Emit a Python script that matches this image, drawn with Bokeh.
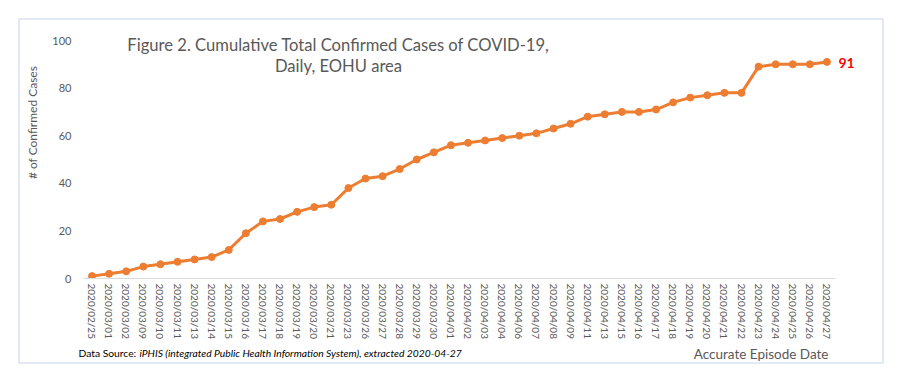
import math
from bokeh.plotting import figure
from bokeh.models import ColumnDataSource, Label, BoxAnnotation, FactorRange, Range1d
from bokeh.embed import file_html
from bokeh.resources import INLINE

dates = ["2020/02/25", "2020/03/01", "2020/03/02", "2020/03/09", "2020/03/10", "2020/03/11",
         "2020/03/13", "2020/03/14", "2020/03/15", "2020/03/16", "2020/03/17", "2020/03/18",
         "2020/03/19", "2020/03/20", "2020/03/21", "2020/03/23", "2020/03/26", "2020/03/27",
         "2020/03/28", "2020/03/29", "2020/03/30", "2020/04/01", "2020/04/02", "2020/04/03",
         "2020/04/04", "2020/04/06", "2020/04/07", "2020/04/08", "2020/04/09", "2020/04/11",
         "2020/04/13", "2020/04/15", "2020/04/16", "2020/04/17", "2020/04/18", "2020/04/19",
         "2020/04/20", "2020/04/21", "2020/04/22", "2020/04/23", "2020/04/24", "2020/04/25",
         "2020/04/26", "2020/04/27"]
cases = [1, 2, 3, 5, 6, 7, 8, 9, 12, 19, 24, 25, 28, 30, 31, 38, 42, 43, 46, 50, 53,
         56, 57, 58, 59, 60, 61, 63, 65, 68, 69, 70, 70, 71, 74, 76, 77, 78, 78, 89, 90,
         90, 90, 91]
y_ticks = [0, 20, 40, 60, 80, 100]
last_label = str(cases[-1])

FONT = "Lato"
GRAY = "#595959"
ORANGE = "#ED7D31"
W, H = 897, 378

src = ColumnDataSource(dict(x=dates, y=cases))

# ---- main chart ----
p = figure(width=W, height=H, x_range=FactorRange(*dates, range_padding=0),
           y_range=Range1d(0, 100), output_backend="svg", toolbar_location=None,
           min_border_left=83, min_border_right=62, min_border_top=40, min_border_bottom=100)
p.outline_line_color = None
p.xgrid.grid_line_color = None
p.ygrid.grid_line_color = None

p.line("x", "y", source=src, line_color=ORANGE, line_width=3)
p.scatter("x", "y", source=src, size=7, fill_color=ORANGE, line_color=ORANGE)

p.yaxis.ticker = y_ticks
p.yaxis.axis_line_color = None
p.yaxis.major_tick_line_color = None
p.yaxis.minor_tick_line_color = None
p.yaxis.major_tick_out = 0
p.yaxis.major_label_standoff = 12
p.yaxis.major_label_text_font = FONT
p.yaxis.major_label_text_font_size = "11px"
p.yaxis.major_label_text_color = GRAY

p.xaxis.axis_line_color = "#D9D9D9"
p.xaxis.axis_line_width = 1
p.xaxis.major_tick_line_color = None
p.xaxis.minor_tick_line_color = None
p.xaxis.major_tick_out = 0
p.xaxis.major_label_standoff = 5
p.xaxis.major_label_orientation = -math.pi / 2
p.xaxis.major_label_text_font = FONT
p.xaxis.major_label_text_font_size = "10px"
p.xaxis.major_label_text_color = GRAY

# ---- overlay with frame, titles and notes (page-pixel coordinates) ----
bg = figure(width=W, height=H, x_range=Range1d(0, W), y_range=Range1d(H, 0),
            output_backend="svg", toolbar_location=None,
            x_axis_location=None, y_axis_location=None,
            min_border=0, min_border_left=0, min_border_right=0,
            min_border_top=0, min_border_bottom=0)
bg.grid.visible = False
bg.outline_line_color = None
bg.background_fill_color = None
bg.border_fill_color = None
bg.styles = {"position": "absolute", "left": "0px", "top": "0px", "pointer-events": "none"}

bg.add_layout(BoxAnnotation(left=18.5, right=882.5, top=18.5, bottom=362.5,
                            fill_color=None, fill_alpha=0,
                            line_color="#4472C4", line_width=1, editable=False))

def lab(text, x, y, **kw):
    opts = dict(text_font=FONT, text_color=GRAY, text_baseline="middle")
    opts.update(kw)
    bg.add_layout(Label(x=x, y=y, text=text, **opts))

lab("Figure 2. Cumulative Total Confirmed Cases of COVID-19,", 338, 44,
    text_align="center", text_font_size="16.6px")
lab("Daily, EOHU area", 338, 65, text_align="center", text_font_size="16.6px")
lab(last_label, 838, 62, text_align="left", text_font_size="14px",
    text_font_style="bold", text_color="#FF0000")
lab("# of Confirmed Cases", 32, 122, text_align="center", angle=math.pi / 2,
    text_font_size="12px")
lab("Data Source: ", 78, 352, text_align="left", text_font_size="10.3px", text_color="#000000")
lab("iPHIS (integrated Public Health Information System), extracted 2020-04-27", 139, 352,
    text_align="left", text_font_size="10.3px", text_font_style="italic", text_color="#000000")
lab("Accurate Episode Date", 828, 353, text_align="right", text_font_size="13.5px")

open("out.html", "w").write(file_html([p, bg], INLINE))
